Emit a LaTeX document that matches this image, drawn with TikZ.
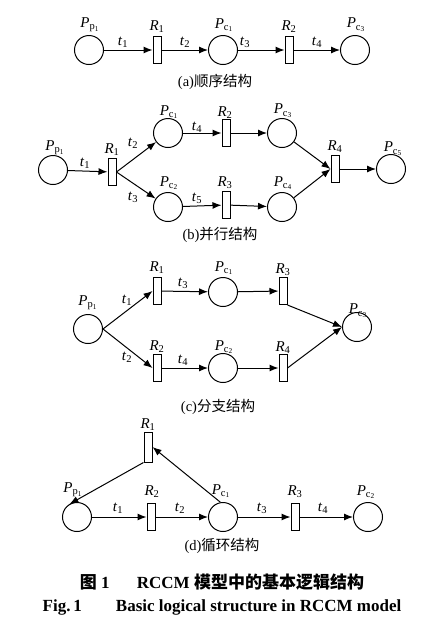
\documentclass[tikz,border=0pt]{standalone}
\usepackage{fontspec}
\setmainfont{Liberation Serif}
\newfontfamily\cjk{Noto Sans CJK SC}
\usetikzlibrary{arrows.meta}
\newcommand\PL[2]{\textit{P}\textsubscript{#1\textsubscript{#2}}}
\newcommand\TL[1]{\textit{t}\textsubscript{#1}}
\newcommand\RL[1]{\textit{R}\textsubscript{#1}}
\begin{document}
\begin{tikzpicture}[x=1pt,y=-1pt,
 place/.style={circle,draw,line width=1pt,minimum size=29pt,inner sep=0},
 trans/.style={rectangle,draw,line width=1pt,minimum width=8pt,minimum height=27pt,inner sep=0},
 arc/.style={-{Latex[length=9pt,width=7pt]},line width=1pt},
 lbl/.style={font=\fontsize{15}{15}\selectfont,inner sep=0},
 captext/.style={font=\fontsize{14.5}{16}\selectfont,inner sep=0}]
\useasboundingbox (0,0) rectangle (447,625);
% (a)
\node[place] (aP1) at (89,50) {};
\node[trans] (aR1) at (157,50) {};
\node[place] (aC1) at (223,50) {};
\node[trans] (aR2) at (289,50) {};
\node[place] (aC3) at (355,50) {};
\draw[arc] (aP1) -- (aR1);
\draw[arc] (aR1) -- (aC1);
\draw[arc] (aC1) -- (aR2);
\draw[arc] (aR2) -- (aC3);
\node[lbl] (aP1l) at (90,25) {\PL{p}{1}};
\node[lbl] (aR1l) at (157,27) {\RL{1}};
\node[lbl] (aC1l) at (224,25) {\PL{c}{1}};
\node[lbl] (aR2l) at (289,27) {\RL{2}};
\node[lbl] (aC3l) at (356,25) {\PL{c}{3}};
\node[lbl] (at1) at (123,42) {\TL{1}};
\node[lbl] (at2) at (185,42) {\TL{2}};
\node[lbl] (at3) at (245,42) {\TL{3}};
\node[lbl] (at4) at (317,42) {\TL{4}};
\node[captext] (capa) at (215,82) {(a){\cjk 顺序结构}};
% (b)
\node[place] (bP1) at (53,170) {};
\node[trans] (bR1) at (112,172) {};
\node[place] (bC1) at (168,133) {};
\node[place] (bC2) at (168,207) {};
\node[trans] (bR2) at (226,133) {};
\node[trans] (bR3) at (226,205) {};
\node[place] (bC3) at (282,133) {};
\node[place] (bC4) at (282,207) {};
\node[trans] (bR4) at (335,169) {};
\node[place] (bC5) at (391,169) {};
\draw[arc] (bP1) -- (bR1);
\draw[arc] (bR1.east) -- (bC1);
\draw[arc] (bR1.east) -- (bC2);
\draw[arc] (bC1) -- (bR2);
\draw[arc] (bC2) -- (bR3);
\draw[arc] (bR2) -- (bC3);
\draw[arc] (bR3) -- (bC4);
\draw[arc] (bC3) -- (bR4.west);
\draw[arc] (bC4) -- (bR4.west);
\draw[arc] (bR4) -- (bC5);
\node[lbl] (bP1l) at (55,148) {\PL{p}{1}};
\node[lbl] (bR1l) at (112,150) {\RL{1}};
\node[lbl] (bC1l) at (169,112) {\PL{c}{1}};
\node[lbl] (bR2l) at (225,113) {\RL{2}};
\node[lbl] (bC3l) at (283,111) {\PL{c}{3}};
\node[lbl] (bR4l) at (335,147) {\RL{4}};
\node[lbl] (bC5l) at (393,149) {\PL{c}{5}};
\node[lbl] (bC2l) at (169,183) {\PL{c}{2}};
\node[lbl] (bR3l) at (225,183) {\RL{3}};
\node[lbl] (bC4l) at (283,183) {\PL{c}{4}};
\node[lbl] (bt1) at (85,163) {\TL{1}};
\node[lbl] (bt2) at (133,143) {\TL{2}};
\node[lbl] (bt3) at (133,197) {\TL{3}};
\node[lbl] (bt4) at (197,127) {\TL{4}};
\node[lbl] (bt5) at (197,198) {\TL{5}};
\node[captext] (capb) at (220,235) {(b){\cjk 并行结构}};
% (c)
\node[place] (cP1) at (88,329) {};
\node[trans] (cR1) at (157,291) {};
\node[trans] (cR2) at (157,368) {};
\node[place] (cC1) at (223,292) {};
\node[place] (cC2) at (223,368) {};
\node[trans] (cR3) at (283,291) {};
\node[trans] (cR4) at (283,368) {};
\node[place] (cC3) at (357,327) {};
\draw[arc] (cP1.east) -- (cR1.west);
\draw[arc] (cP1.east) -- (cR2.west);
\draw[arc] (cR1) -- (cC1);
\draw[arc] (cR2) -- (cC2);
\draw[arc] (cC1) -- (cR3);
\draw[arc] (cC2) -- (cR4);
\draw[arc] (cR3.south east) -- (cC3.west);
\draw[arc] (cR4.east) -- (cC3.west);
\node[lbl] (cP1l) at (88,303) {\PL{p}{1}};
\node[lbl] (cR1l) at (157,268) {\RL{1}};
\node[lbl] (cC1l) at (224,268) {\PL{c}{1}};
\node[lbl] (cR3l) at (283,270) {\RL{3}};
\node[lbl] (cC3l) at (358,311) {\PL{c}{3}};
\node[lbl] (cR2l) at (157,347) {\RL{2}};
\node[lbl] (cC2l) at (224,347) {\PL{c}{2}};
\node[lbl] (cR4l) at (283,348) {\RL{4}};
\node[lbl] (ct1) at (127,300) {\TL{1}};
\node[lbl] (ct2) at (127,357) {\TL{2}};
\node[lbl] (ct3) at (183,283) {\TL{3}};
\node[lbl] (ct4) at (183,360) {\TL{4}};
\node[captext] (capc) at (218,407) {(c){\cjk 分支结构}};
% (d)
\node[place] (dP1) at (77,517) {};
\node[trans] (dR2) at (151,517) {};
\node[place] (dC1) at (223,517) {};
\node[trans] (dR3) at (295,517) {};
\node[place] (dC2) at (368,517) {};
\node[trans,minimum height=30pt] (dR1) at (148,447) {};
\draw[arc] (dP1) -- (dR2);
\draw[arc] (dR2) -- (dC1);
\draw[arc] (dC1) -- (dR3);
\draw[arc] (dR3) -- (dC2);
\draw[arc] (dC1.100) -- (dR1.east);
\draw[arc] (dR1.south west) -- (dP1.120);
\node[lbl] (dR1l) at (148,425) {\RL{1}};
\node[lbl] (dP1l) at (73,490) {\PL{p}{1}};
\node[lbl] (dR2l) at (152,492) {\RL{2}};
\node[lbl] (dC1l) at (221,491) {\PL{c}{1}};
\node[lbl] (dR3l) at (295,492) {\RL{3}};
\node[lbl] (dC2l) at (366,492) {\PL{c}{2}};
\node[lbl] (dt1) at (118,508) {\TL{1}};
\node[lbl] (dt2) at (180,508) {\TL{2}};
\node[lbl] (dt3) at (262,508) {\TL{3}};
\node[lbl] (dt4) at (323,508) {\TL{4}};
\node[captext] (capd) at (222,546) {(d){\cjk 循环结构}};
% captions
\node[font=\fontsize{17}{18}\selectfont,inner sep=0] (cap1) at (222,582) {{\cjk\bfseries 图}~\textbf{1}\hspace{1.6em}\textbf{RCCM}~{\cjk\bfseries 模型中的基本逻辑结构}};
\node[font=\fontsize{17}{18}\selectfont,inner sep=0] (cap2) at (222,607) {\textbf{Fig.\,1}\hspace{2em}\textbf{Basic logical structure in RCCM model}};
\end{tikzpicture}
\end{document}
